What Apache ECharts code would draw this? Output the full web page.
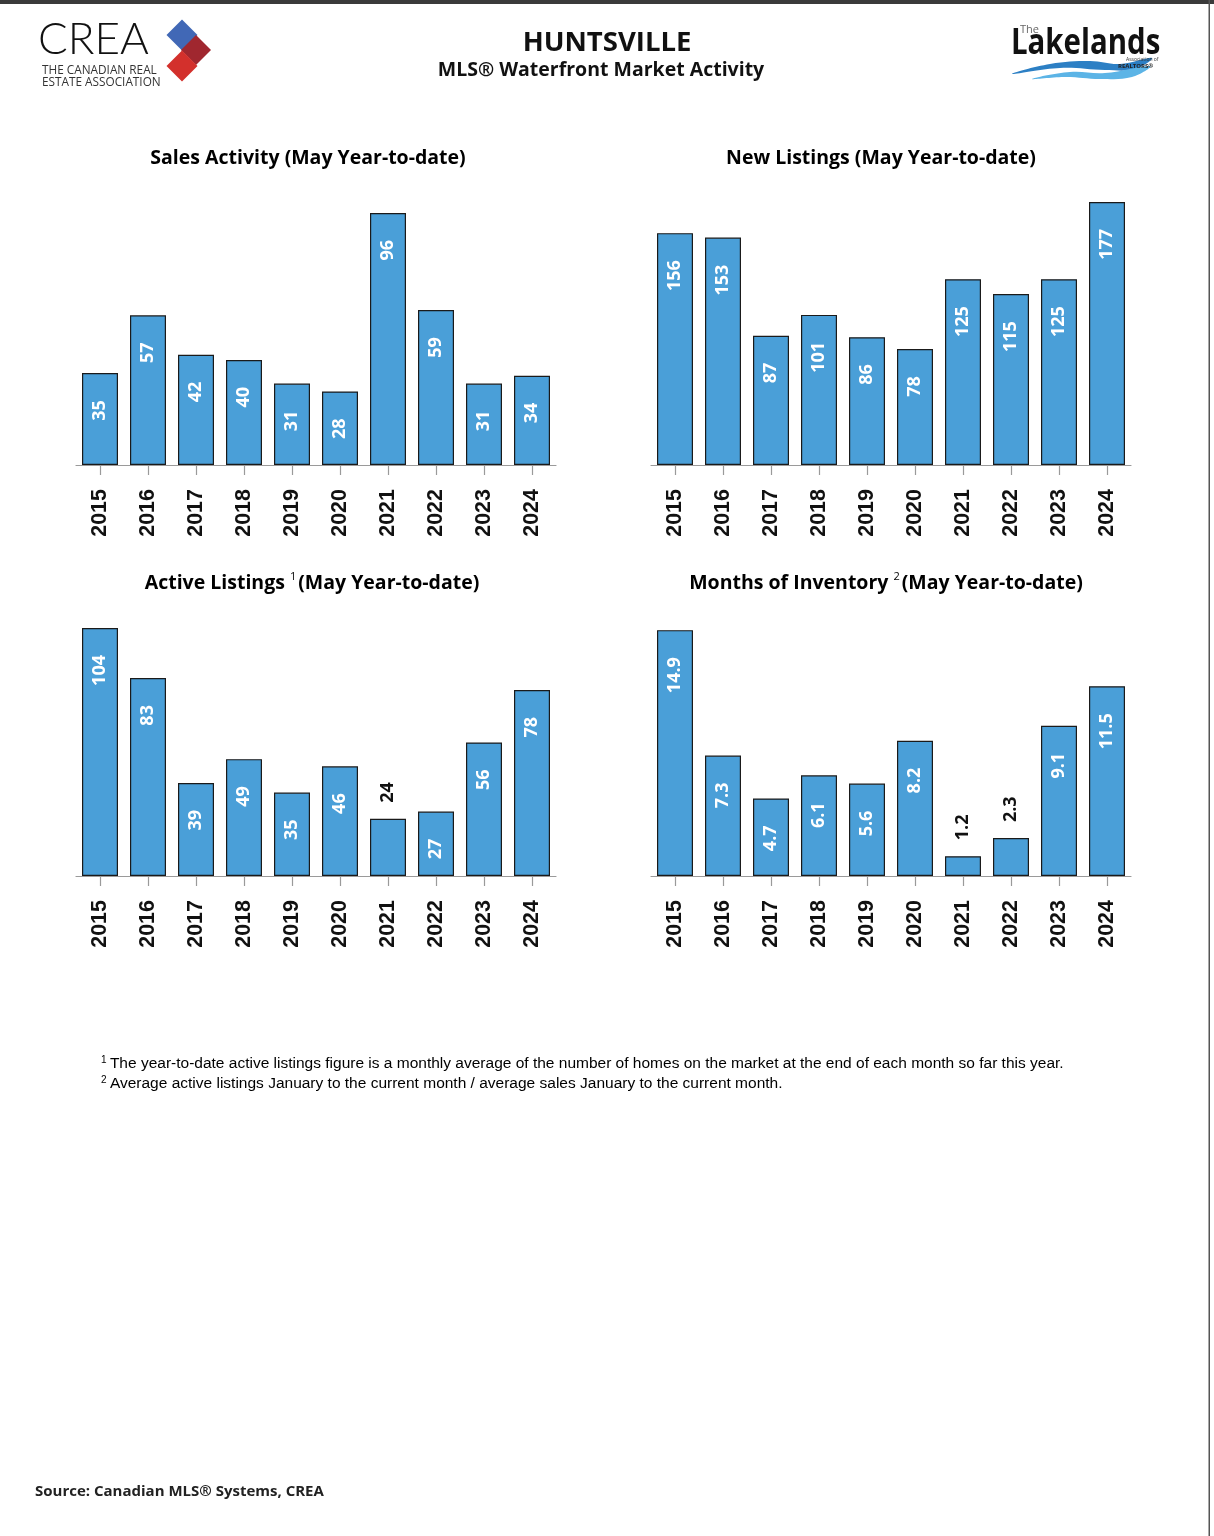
<!DOCTYPE html>
<html>
<head>
<meta charset="utf-8">
<script src="https://cdn.jsdelivr.net/npm/echarts@6/dist/echarts.min.js"></script>
<style>
html,body{margin:0;padding:0;background:#fff;}
#c{width:1214px;height:1536px;}
</style>
</head>
<body>
<div id="c"></div>
<script>
const years = ['2015','2016','2017','2018','2019','2020','2021','2022','2023','2024'];
const salesActivity = [35,57,42,40,31,28,96,59,31,34];
const newListings = [156,153,87,101,86,78,125,115,125,177];
const activeListings = [104,83,39,49,35,46,24,27,56,78];
const monthsInventory = [14.9,7.3,4.7,6.1,5.6,8.2,1.2,2.3,9.1,11.5];

const chartTitles = [
  {text:'Sales Activity (May Year-to-date)', sup:''},
  {text:'New Listings (May Year-to-date)', sup:''},
  {text:'Active Listings ', sup:'1', rest:'(May Year-to-date)'},
  {text:'Months of Inventory ', sup:'2', rest:'(May Year-to-date)'}
];

const BAR = '#4A9FD8';
const chart = echarts.init(document.getElementById('c'), null, {renderer:'canvas'});

const panels = [
  {data:salesActivity, max:100, left:76, top:202.5, height:262.5},
  {data:newListings, max:180, left:651, top:197.5, height:267.5},
  {data:activeListings, max:110, left:76, top:613.7, height:262.3},
  {data:monthsInventory, max:16, left:651, top:612, height:264}
];

const grids = [], xAxes = [], yAxes = [], series = [];
panels.forEach((p, i) => {
  grids.push({left:p.left, top:p.top, width:480, height:p.height, containLabel:false});
  xAxes.push({
    type:'category', gridIndex:i, data:years,
    axisLine:{show:true, lineStyle:{color:'#9a9a9a', width:1.2}},
    axisTick:{show:true, alignWithLabel:true, length:10, lineStyle:{color:'#9a9a9a', width:1.2}},
    axisLabel:{rotate:90, margin:24, color:'#111', fontFamily:'Liberation Sans, Arial, sans-serif', fontWeight:'bold', fontSize:21.5}
  });
  yAxes.push({type:'value', gridIndex:i, min:0, max:p.max, show:false, splitLine:{show:false}});
  const seriesMax = Math.max.apply(null, p.data);
  series.push({
    type:'bar', xAxisIndex:i, yAxisIndex:i, barWidth:36,
    itemStyle:{color:BAR, borderColor:'#1a1a1a', borderWidth:1.2},
    data:p.data.map(v => {
      const outside = v / seriesMax < 0.25;
      return {
        value:v,
        label: outside ? {
          show:true, position:'top', distance:16, rotate:90, align:'left', verticalAlign:'middle',
          color:'#111', fontFamily:'Open Sans, sans-serif', fontWeight:'bold', fontSize:18
        } : {
          show:true, position:'insideTop', distance:27, rotate:90, align:'right', verticalAlign:'middle',
          color:'#fff', fontFamily:'Open Sans, sans-serif', fontWeight:'bold', fontSize:18
        }
      };
    })
  });
});

const titlePos = [[308,158],[881,158],[312,583],[886,583]];
const titleGraphics = chartTitles.map((t, i) => ({
  type:'text', x:titlePos[i][0], y:titlePos[i][1],
  style:{
    text: t.sup ? '{m|' + t.text + '}{s|' + t.sup + '}{m|' + t.rest + '}' : '{m|' + t.text + '}',
    align:'center', verticalAlign:'middle',
    rich:{
      m:{fontFamily:'Open Sans, sans-serif', fontWeight:'bold', fontSize:19.5, color:'#111'},
      s:{fontFamily:'Open Sans, sans-serif', fontSize:11, color:'#111', verticalAlign:'top', padding:[0,2,12,0]}
    }
  }
}));

function diamond(cx, cy, r, color){
  return {type:'polygon', shape:{points:[[cx,cy-r],[cx+r,cy],[cx,cy+r],[cx-r,cy]]}, style:{fill:color}};
}

const graphics = [
  {type:'rect', shape:{x:0,y:0,width:1214,height:4}, style:{fill:'#3a3a3a'}},
  {type:'rect', shape:{x:1208.5,y:0,width:1.5,height:1536}, style:{fill:'#555'}},
  // CREA logo
  {type:'text', x:38, y:40, style:{text:'CREA', fontFamily:'Lato, Open Sans, sans-serif', fontWeight:300, fontSize:44, fill:'#111', verticalAlign:'middle'}},
  {type:'text', x:42, y:71, style:{text:'THE CANADIAN REAL', fontFamily:'Open Sans, sans-serif', fontSize:11.8, fill:'#333', verticalAlign:'middle'}},
  {type:'text', x:42, y:83, style:{text:'ESTATE ASSOCIATION', fontFamily:'Open Sans, sans-serif', fontSize:11.8, fill:'#333', verticalAlign:'middle'}},
  diamond(182, 35, 15.5, '#4168B6'),
  diamond(196, 50, 15, '#A0272F'),
  diamond(182, 66, 15.5, '#D3302C'),
  // Header
  {type:'text', x:607, y:43, style:{text:'HUNTSVILLE', align:'center', verticalAlign:'middle', fontFamily:'Open Sans, sans-serif', fontWeight:'bold', fontSize:27.5, fill:'#111'}},
  {type:'text', x:601, y:70, style:{text:'MLS® Waterfront Market Activity', align:'center', verticalAlign:'middle', fontFamily:'Open Sans, sans-serif', fontWeight:'bold', fontSize:19.5, fill:'#111'}},
  // Lakelands logo waves
  {type:'polygon', shape:{smooth:0.4, points:[[1012,74],[1050,64],[1090,61],[1120,64],[1152,58],[1135,69],[1105,70],[1060,68]]}, style:{fill:'#2C7FC4'}},
  {type:'polygon', shape:{smooth:0.4, points:[[1032,79],[1070,72],[1105,73],[1150,66],[1132,77],[1100,79],[1066,77]]}, style:{fill:'#5CB4E6'}},
  {type:'text', x:1011, y:44, scaleX:0.84, style:{text:'Lakelands', verticalAlign:'middle', fontFamily:'Open Sans, sans-serif', fontWeight:'bold', fontSize:35, fill:'#111'}},
  {type:'text', x:1020, y:30, style:{text:'The', verticalAlign:'middle', fontFamily:'Open Sans, sans-serif', fontSize:11, fill:'#666'}},
  {type:'text', x:1126, y:60, style:{text:'Association of', verticalAlign:'middle', fontFamily:'Open Sans, sans-serif', fontSize:5, fill:'#333'}},
  {type:'text', x:1118, y:66, style:{text:'REALTORS®', verticalAlign:'middle', fontFamily:'Open Sans, sans-serif', fontWeight:'bold', fontSize:6, fill:'#222'}},
  // Footnotes
  {type:'text', x:101, y:1064, style:{text:'{s|1} {m|The year-to-date active listings figure is a monthly average of the number of homes on the market at the end of each month so far this year.}', verticalAlign:'middle',
    rich:{s:{fontFamily:'Liberation Sans Narrow, Arial Narrow, Liberation Sans, sans-serif', fontSize:10, color:'#111', verticalAlign:'top', padding:[0,0,8,0]}, m:{fontFamily:'Liberation Sans Narrow, Arial Narrow, Liberation Sans, sans-serif', fontSize:15.5, color:'#111'}}}},
  {type:'text', x:101, y:1084, style:{text:'{s|2} {m|Average active listings January to the current month / average sales January to the current month.}', verticalAlign:'middle',
    rich:{s:{fontFamily:'Liberation Sans Narrow, Arial Narrow, Liberation Sans, sans-serif', fontSize:10, color:'#111', verticalAlign:'top', padding:[0,0,8,0]}, m:{fontFamily:'Liberation Sans Narrow, Arial Narrow, Liberation Sans, sans-serif', fontSize:15.5, color:'#111'}}}},
  // Source
  {type:'text', x:35, y:1492, style:{text:'Source: Canadian MLS® Systems, CREA', verticalAlign:'middle', fontFamily:'Open Sans, sans-serif', fontWeight:'bold', fontSize:15, fill:'#222'}}
].concat(titleGraphics);

chart.setOption({
  backgroundColor:'#fff',
  animation:false,
  grid:grids, xAxis:xAxes, yAxis:yAxes, series:series,
  graphic:graphics
});
</script>
</body>
</html>
